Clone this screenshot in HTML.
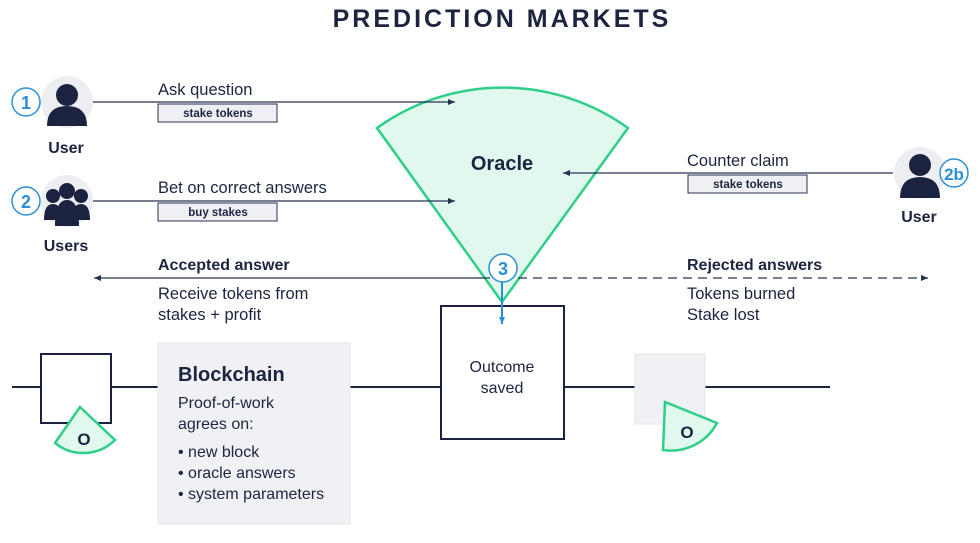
<!DOCTYPE html>
<html><head><style>
body{margin:0;background:#fff;}
svg text{font-family:"Liberation Sans",sans-serif;fill:#1d2440;}
</style></head><body>
<svg width="980" height="538" viewBox="0 0 980 538" xmlns="http://www.w3.org/2000/svg">
<defs>
<marker id="ah" markerWidth="8" markerHeight="8" refX="7" refY="4" orient="auto" markerUnits="userSpaceOnUse"><path d="M0,1 L7,4 L0,7 Z" fill="#2a3150"/></marker>
<marker id="ahb" markerWidth="8" markerHeight="8" refX="7" refY="4" orient="auto" markerUnits="userSpaceOnUse"><path d="M0,1 L7,4 L0,7 Z" fill="#2a8fd8"/></marker>
</defs>
<text x="502" y="27" text-anchor="middle" font-size="25" font-weight="bold" letter-spacing="3">PREDICTION MARKETS</text>

<path d="M502,302 L377,128 A215,215 0 0 1 628,128 Z" fill="#e0f8ee" stroke="#2fcf8a" stroke-width="2.5"/>
<text x="502" y="170" text-anchor="middle" font-size="20" font-weight="bold">Oracle</text>

<line x1="92" y1="102" x2="455" y2="102" stroke="#2a3150" stroke-width="1.2" marker-end="url(#ah)"/>
<text x="158" y="95" font-size="16.5">Ask question</text>
<rect x="158" y="104" width="119" height="18" fill="#eef0f4" stroke="#2a3150" stroke-width="1"/>
<text x="218" y="117" text-anchor="middle" font-size="11.5" font-weight="bold">stake tokens</text>

<line x1="92" y1="201" x2="455" y2="201" stroke="#2a3150" stroke-width="1.2" marker-end="url(#ah)"/>
<text x="158" y="193" font-size="16.5">Bet on correct answers</text>
<rect x="158" y="203" width="119" height="18" fill="#eef0f4" stroke="#2a3150" stroke-width="1"/>
<text x="218" y="216" text-anchor="middle" font-size="11.5" font-weight="bold">buy stakes</text>

<line x1="893" y1="173" x2="563" y2="173" stroke="#2a3150" stroke-width="1.2" marker-end="url(#ah)"/>
<text x="687" y="166" font-size="16.5">Counter claim</text>
<rect x="688" y="175" width="119" height="18" fill="#eef0f4" stroke="#2a3150" stroke-width="1"/>
<text x="748" y="188" text-anchor="middle" font-size="11.5" font-weight="bold">stake tokens</text>

<g>
<circle cx="67" cy="102" r="26" fill="#eceef2"/>
<circle cx="67" cy="95" r="11" fill="#1b2340"/>
<path d="M47,126 Q47,106 67,106 Q87,106 87,126 Z" fill="#1b2340"/>
<circle cx="26" cy="102" r="14" fill="#fff" stroke="#2a8fd8" stroke-width="1.5"/>
<text x="26" y="109" text-anchor="middle" font-size="18" font-weight="bold" style="fill:#2a8fd8">1</text>
<text x="66" y="153" text-anchor="middle" font-size="16" font-weight="bold">User</text>
</g>
<g>
<circle cx="67" cy="201" r="26" fill="#eceef2"/>
<circle cx="53" cy="196" r="7" fill="#1b2340"/><circle cx="81" cy="196" r="7" fill="#1b2340"/><circle cx="67" cy="191" r="8" fill="#1b2340"/>
<path d="M44,220 Q44,204 53,204 Q62,204 62,220 Z" fill="#1b2340"/>
<path d="M72,220 Q72,204 81,204 Q90,204 90,220 Z" fill="#1b2340"/>
<path d="M55,226 Q55,200 67,200 Q79,200 79,226 Z" fill="#1b2340"/>
<circle cx="26" cy="201" r="14" fill="#fff" stroke="#2a8fd8" stroke-width="1.5"/>
<text x="26" y="208" text-anchor="middle" font-size="18" font-weight="bold" style="fill:#2a8fd8">2</text>
<text x="66" y="251" text-anchor="middle" font-size="16" font-weight="bold">Users</text>
</g>
<g>
<circle cx="920" cy="173" r="26" fill="#eceef2"/>
<circle cx="920" cy="165" r="11" fill="#1b2340"/>
<path d="M900,198 Q900,177 920,177 Q940,177 940,198 Z" fill="#1b2340"/>
<circle cx="954" cy="173" r="14" fill="#fff" stroke="#2a8fd8" stroke-width="1.5"/>
<text x="954" y="180" text-anchor="middle" font-size="17" font-weight="bold" style="fill:#2a8fd8">2b</text>
<text x="919" y="222" text-anchor="middle" font-size="16" font-weight="bold">User</text>
</g>

<line x1="490" y1="278" x2="94" y2="278" stroke="#2a3150" stroke-width="1.2" marker-end="url(#ah)"/>
<text x="158" y="270" font-size="16" font-weight="bold">Accepted answer</text>
<text x="158" y="299" font-size="16.5">Receive tokens from</text>
<text x="158" y="320" font-size="16.5">stakes + profit</text>
<line x1="518" y1="278" x2="928" y2="278" stroke="#2a3150" stroke-width="1.2" stroke-dasharray="9,6" marker-end="url(#ah)"/>
<text x="687" y="270" font-size="16" font-weight="bold">Rejected answers</text>
<text x="687" y="299" font-size="16.5">Tokens burned</text>
<text x="687" y="320" font-size="16.5">Stake lost</text>

<line x1="12" y1="387" x2="830" y2="387" stroke="#1b2340" stroke-width="2"/>
<rect x="41" y="354" width="70" height="69" fill="#fff" stroke="#1b2340" stroke-width="2"/>
<path d="M80,407 L55,443 A45,45 0 0 0 115,440 Z" fill="#e0f8ee" stroke="#2fcf8a" stroke-width="2.5"/>
<text x="84" y="445" text-anchor="middle" font-size="17" font-weight="bold">O</text>

<rect x="158" y="343" width="192" height="181" fill="#eff1f4" stroke="#e3e6ea"/>
<text x="178" y="381" font-size="20" font-weight="bold">Blockchain</text>
<text x="178" y="408" font-size="16">Proof-of-work</text>
<text x="178" y="429" font-size="16">agrees on:</text>
<text x="178" y="457" font-size="16">• new block</text>
<text x="178" y="478" font-size="16">• oracle answers</text>
<text x="178" y="499" font-size="16">• system parameters</text>

<rect x="441" y="306" width="123" height="133" fill="#fff" stroke="#1b2340" stroke-width="2"/>
<text x="502" y="372" text-anchor="middle" font-size="16">Outcome</text>
<text x="502" y="393" text-anchor="middle" font-size="16">saved</text>

<circle cx="503" cy="268" r="14" fill="#fff" stroke="#2a8fd8" stroke-width="1.5"/>
<text x="503" y="275" text-anchor="middle" font-size="18" font-weight="bold" style="fill:#2a8fd8">3</text>
<line x1="502" y1="282" x2="502" y2="324" stroke="#2a8fd8" stroke-width="2" marker-end="url(#ahb)"/>

<rect x="635" y="354" width="70" height="70" fill="#eff1f4" stroke="#e3e6ea"/>
<path d="M665,402 L717,423 A52,52 0 0 1 663,450 Z" fill="#e0f8ee" stroke="#2fcf8a" stroke-width="2.5"/>
<text x="687" y="438" text-anchor="middle" font-size="17" font-weight="bold">O</text>
</svg>
</body></html>
